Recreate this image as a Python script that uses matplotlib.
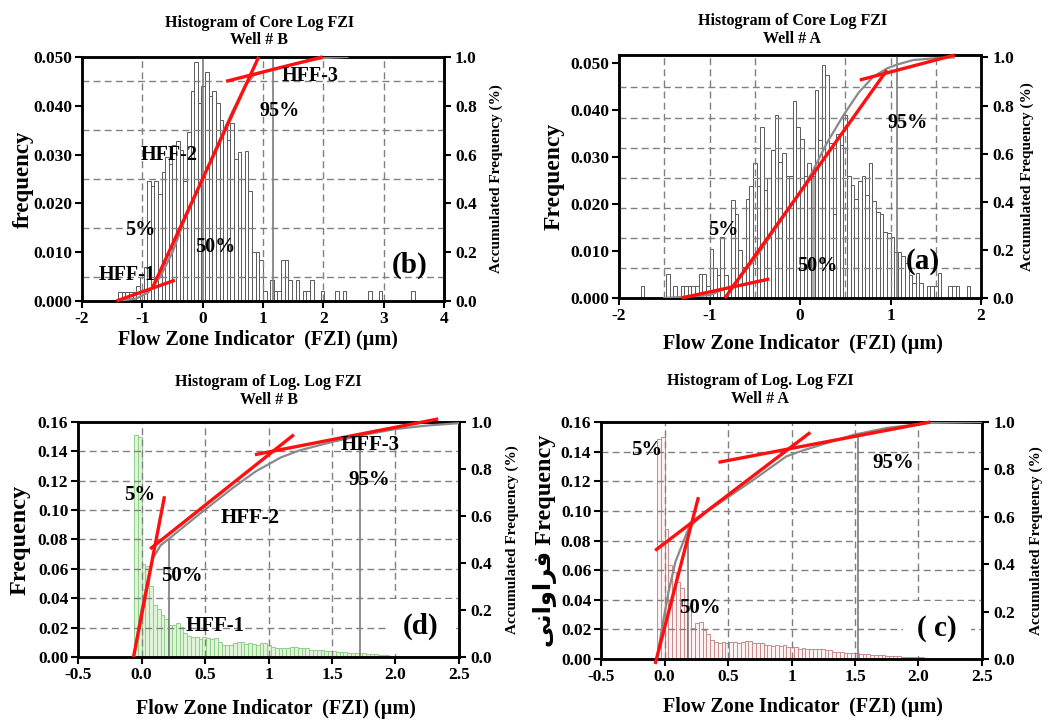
import numpy as np
import matplotlib
matplotlib.use("Agg")
import matplotlib.pyplot as plt

plt.rcParams['font.family'] = ['Liberation Serif', 'DejaVu Sans']
plt.rcParams['font.weight'] = 'bold'
plt.rcParams['axes.labelweight'] = 'bold'
plt.rcParams['axes.linewidth'] = 1.8

# ---------------- data ----------------
# (b) Core Log FZI, Well # B : bins of 0.06 from -1.40
b_start, b_width = -1.40, 0.06
b_freq = [0.0018, 0.0018, 0.0018, 0.0018, 0.0018, 0.003, 0.005, 0.007,
          0.0245, 0.0235, 0.0245, 0.022, 0.0265, 0.0295, 0.028, 0.032,
          0.0327, 0.031, 0.0245, 0.0347, 0.043, 0.049, 0.0405, 0.044,
          0.047, 0.042, 0.043, 0.0405, 0.037, 0.0355, 0.033, 0.0365,
          0.029, 0.0305, 0.0249, 0.0307, 0.0225, 0.010, 0.010, 0.0084,
          0.002, 0.0, 0.0043, 0.002, 0.002, 0.0084, 0.0084, 0.0043,
          0.0, 0.0043, 0.0, 0.002, 0.002, 0.0043, 0.0, 0.0, 0.002,
          0.0, 0.0, 0.0, 0.002, 0.0, 0.002, 0.0, 0.0, 0.0, 0.0, 0.0,
          0.0, 0.002, 0.0, 0.0, 0.002, 0.0, 0.0, 0.0, 0.0, 0.0, 0.0,
          0.0, 0.0, 0.002]
b_cdf_x = [-1.4, -1.1, -0.9, -0.7, -0.5, -0.3, 0.0, 0.3, 0.5, 0.7, 0.85,
           1.17, 1.6, 2.0, 2.4]
b_cdf_y = [0.0, 0.01, 0.035, 0.1, 0.2, 0.33, 0.5, 0.67, 0.78, 0.88, 0.925,
           0.95, 0.975, 0.995, 1.0]
b_hff_x = [[-1.43, -0.46], [-0.83, 0.93], [0.39, 1.99]]
b_hff_y = [[0.0, 0.085], [0.055, 1.0], [0.90, 1.0]]
b_pct_x = [0.0, 1.17]
b_pct_top = [0.050, 0.050]

# (a) Core Log FZI, Well # A : bins of 0.04 from -1.76
a_start, a_width = -1.76, 0.04
a_freq = [0.0026, 0.0, 0.0, 0.0, 0.0, 0.0, 0.0, 0.0052, 0.0, 0.0026,
          0.0, 0.0026, 0.0026, 0.0026, 0.0026, 0.0026, 0.0052, 0.0052,
          0.0026, 0.0104, 0.0064, 0.005, 0.013, 0.005, 0.0026, 0.0209,
          0.018, 0.0103, 0.0067, 0.021, 0.0238, 0.0287, 0.0238, 0.0365,
          0.023, 0.0255, 0.0316, 0.039, 0.029, 0.031, 0.026, 0.026,
          0.042, 0.0365, 0.034, 0.026, 0.0287, 0.026, 0.0443, 0.0337,
          0.0496, 0.0475, 0.033, 0.018, 0.035, 0.0326, 0.039, 0.026,
          0.024, 0.021, 0.025, 0.026, 0.022, 0.0287, 0.0206, 0.0184,
          0.018, 0.014, 0.0138, 0.013, 0.0099, 0.0099, 0.0089, 0.0074,
          0.005, 0.0032, 0.0053, 0.0032, 0.0, 0.0026, 0.0026, 0.0026,
          0.0053, 0.0, 0.0, 0.0026, 0.0026, 0.0026, 0.0, 0.0, 0.0026]
a_median_bin = 47
a_cdf_x = [-1.5, -1.0, -0.75, -0.5, -0.25, 0.0, 0.13, 0.29, 0.48, 0.65,
           0.81, 0.96, 1.07, 1.25, 1.5, 1.7]
a_cdf_y = [0.0, 0.012, 0.05, 0.16, 0.3, 0.44, 0.52, 0.64, 0.76, 0.855,
           0.92, 0.954, 0.97, 0.989, 0.997, 1.0]
a_hff_x = [[-1.31, -0.34], [-0.83, 0.96], [0.66, 1.71]]
a_hff_y = [[0.0, 0.079], [0.0, 0.947], [0.906, 1.01]]
a_pct_x = [1.07]
a_pct_top = [0.0518]

# (d) Log. Log FZI, Well # B : bins of 0.03 from -0.06
d_start, d_width = -0.06, 0.03
d_freq = [0.151, 0.150, 0.063, 0.062, 0.048, 0.0355, 0.033, 0.0286,
          0.026, 0.0218, 0.022, 0.023, 0.0207, 0.016, 0.0145, 0.0139,
          0.0135, 0.0123, 0.0139, 0.013, 0.0125, 0.0128, 0.010, 0.0082,
          0.0085, 0.0082, 0.0098, 0.0105, 0.0100, 0.009, 0.0092, 0.0086,
          0.0085, 0.0095, 0.0098, 0.008, 0.0065, 0.006, 0.0062, 0.006,
          0.0058, 0.0066, 0.0066, 0.006, 0.0062, 0.006, 0.005, 0.0048,
          0.0048, 0.0045, 0.0043, 0.0043, 0.0040, 0.0036, 0.0036, 0.0034,
          0.0025, 0.0025, 0.003, 0.003, 0.0028, 0.0023, 0.0023, 0.002,
          0.0014, 0.0014, 0.0012, 0.001, 0.001, 0.001, 0.0008, 0.0007,
          0.0007, 0.0007, 0.0006, 0.0006, 0.0005, 0.0005, 0.0004, 0.0004,
          0.0003, 0.0003]
d_cdf_x = [-0.06, 0.0, 0.05, 0.09, 0.15, 0.22, 0.3, 0.46, 0.72, 0.9, 1.0,
           1.1, 1.25, 1.5, 1.75, 2.0, 2.25, 2.5]
d_cdf_y = [0.0, 0.2, 0.33, 0.42, 0.475, 0.505, 0.54, 0.61, 0.72, 0.79,
           0.82, 0.85, 0.88, 0.915, 0.945, 0.97, 0.985, 0.995]
d_hff_x = [[-0.063, 0.181], [0.068, 1.20], [0.893, 2.336]]
d_hff_y = [[0.0, 0.684], [0.46, 0.946], [0.861, 1.013]]
d_pct_x = [0.22, 1.724]
d_pct_top = [0.081, 0.1407]

# (c) Log. Log FZI, Well # A : bins of 0.03 from -0.06
c_start, c_width = -0.06, 0.03
c_freq = [0.1485, 0.150, 0.088, 0.0635, 0.059, 0.052, 0.048, 0.040,
          0.036, 0.021, 0.024, 0.025, 0.0196, 0.017, 0.0128, 0.0117,
          0.0106, 0.0117, 0.0106, 0.0117, 0.0112, 0.0106, 0.0117, 0.0124,
          0.0124, 0.0106, 0.011, 0.0106, 0.0095, 0.0095, 0.009, 0.0095,
          0.009, 0.0095, 0.0083, 0.0083, 0.008, 0.007, 0.0072, 0.007,
          0.007, 0.0068, 0.007, 0.007, 0.006, 0.0058, 0.005, 0.0048,
          0.0045, 0.0043, 0.0043, 0.0040, 0.0038, 0.0036, 0.0034, 0.0032,
          0.003, 0.0027, 0.0026, 0.0024, 0.0023, 0.002, 0.0018, 0.0017,
          0.0015, 0.0014, 0.0014, 0.0013, 0.0013, 0.0012, 0.001, 0.001,
          0.0009, 0.0009, 0.0009, 0.0008, 0.0008, 0.0008, 0.0007, 0.0007]
c_cdf_x = [-0.06, -0.02, 0.03, 0.086, 0.178, 0.2, 0.33, 0.7, 0.96, 1.09,
           1.49, 1.75, 2.09, 2.5]
c_cdf_y = [0.0, 0.13, 0.28, 0.41, 0.536, 0.56, 0.62, 0.756, 0.855, 0.88,
           0.946, 0.975, 0.996, 1.0]
c_hff_x = [[-0.074, 0.267], [-0.074, 1.148], [0.425, 2.093]]
c_hff_y = [[-0.021, 0.683], [0.458, 0.956], [0.83, 1.0]]
c_pct_x = [0.188, 1.52]
c_pct_top = [0.088, 0.1515]

persian = "\uFEF0\uFEE7\uFE8D\uFEED\uFE8D\uFEAE\uFED3"

GRID = dict(color='#808080', lw=1.0, ls=(0, (5, 3)))
RED = dict(color='#ff1010', lw=2.4, solid_capstyle='butt', clip_on=False)


def panel(rect, start, width, freq, cdf_x, cdf_y, xlim, ytop, rtop, xticks,
          xticklabels, yticks, yfmt, vgrid, hgrid_r, hff_x, hff_y, pct_x,
          pct_top, title, title_x, title_y, ylabel, ylabel_size, ylabel_x,
          xlabel_xy, rlabel_x, face, edge, notes, tag, tag_xy, tag_box,
          special_bin=None):
    ax = fig.add_axes(rect)
    n = len(freq)
    left = start + width * np.arange(n)
    faces = [face] * n
    if special_bin is not None:
        faces[special_bin] = '#b0b0b0'
    ax.bar(left, freq, width=width, align='edge', color=faces,
           edgecolor=edge, linewidth=0.7, zorder=1)
    ax.set_xlim(*xlim)
    ax.set_ylim(0, ytop)
    ax.set_xticks(xticks)
    ax.set_xticklabels(xticklabels)
    ax.set_yticks(yticks)
    ax.set_yticklabels([yfmt % v for v in yticks])
    for gx in vgrid:
        ax.axvline(gx, zorder=2.5, **GRID)
    ax.vlines(pct_x, 0, pct_top, color='#707070', lw=1.1, zorder=2.6)
    ax.tick_params(direction='out', length=5, width=1.5, labelsize=12.5,
                   pad=2)

    ax2 = ax.twinx()
    ax2.set_ylim(0, rtop)
    ax2.set_yticks([0, 0.2, 0.4, 0.6, 0.8, 1.0])
    ax2.set_yticklabels(['0.0', '0.2', '0.4', '0.6', '0.8', '1.0'])
    ax2.set_yticks(hgrid_r, minor=True)
    ax2.tick_params(which='minor', length=0)
    ax2.grid(which='minor', axis='y', **GRID)
    ax2.tick_params(which='major', direction='out', length=5, width=1.5,
                    labelsize=12.5, pad=3)
    for s in ax2.spines.values():
        s.set_linewidth(1.8)

    # accumulated frequency curve
    ax2.plot(cdf_x, cdf_y, color='#8a8a8a', lw=1.6, zorder=3)
    for xs, ys in zip(hff_x, hff_y):
        ax2.plot(xs, ys, zorder=4, **RED)

    for txt, x, y, size in notes:
        ax2.text(x, y, txt, fontsize=size, ha='center', va='center',
                 zorder=5)
    box = dict(facecolor='white', edgecolor='none', pad=10) if tag_box else None
    ax2.text(tag_xy[0], tag_xy[1], tag, fontsize=21, ha='center',
             va='center', zorder=5, bbox=box)

    ax.text(title_x, title_y, title, transform=ax.transAxes, ha='center',
            va='bottom', fontsize=11.5, linespacing=1.15)
    ax.set_ylabel(ylabel, fontsize=ylabel_size)
    ax.yaxis.set_label_coords(ylabel_x, 0.5)
    ax.set_xlabel('Flow Zone Indicator  (FZI) (\u00b5m)', fontsize=14.5)
    ax.xaxis.set_label_coords(*xlabel_xy)
    ax2.set_ylabel('Accumulated Frequency (%)', fontsize=11)
    ax2.yaxis.set_label_coords(rlabel_x, 0.5)
    return ax


fig = plt.figure(figsize=(10.46, 7.2), dpi=100)

panel([0.0784, 0.582, 0.346, 0.339], b_start, b_width, b_freq,
      b_cdf_x, b_cdf_y, (-2, 4),
      0.050, 1.0, [-2, -1, 0, 1, 2, 3, 4],
      ['-2', '-1', '0', '1', '2', '3', '4'],
      [0, 0.01, 0.02, 0.03, 0.04, 0.05], '%.3f', [-1, 1, 2, 3],
      np.arange(0.1, 1.0, 0.1), b_hff_x, b_hff_y, b_pct_x, b_pct_top,
      'Histogram of Core Log FZI\nWell # B', 0.49, 1.035, 'frequency', 16.5,
      -0.133, (0.486, -0.118), 1.127, 'white', '#5a5a5a',
      [('HFF-3', 1.79, 0.923, 14.5), ('95%', 1.27, 0.78, 14.5),
       ('HFF-2', -0.56, 0.60, 14.5), ('5%', -1.04, 0.29, 14.5),
       ('50%', 0.21, 0.22, 14.5), ('HFF-1', -1.26, 0.105, 14.5)],
      '(b)', (3.43, 0.147), False)

panel([0.5918, 0.5861, 0.3461, 0.3375], a_start, a_width, a_freq,
      a_cdf_x, a_cdf_y, (-2, 2),
      0.0518, 1.01, [-2, -1, 0, 1, 2], ['-2', '-1', '0', '1', '2'],
      [0, 0.01, 0.02, 0.03, 0.04, 0.05], '%.3f', [-1.5, -1, -0.5, 0.5, 1, 1.5],
      np.arange(0.125, 1.0, 0.125), a_hff_x, a_hff_y, a_pct_x, a_pct_top,
      'Histogram of Core Log FZI\nWell # A', 0.478, 1.035, 'Frequency', 17,
      -0.149, (0.508, -0.15), 1.110, 'white', '#5a5a5a',
      [('95%', 1.19, 0.726, 14.5), ('5%', -0.845, 0.284, 14.5),
       ('50%', 0.185, 0.131, 14.5)],
      '(a)', (1.36, 0.152), False, special_bin=a_median_bin)

panel([0.0746, 0.0875, 0.3642, 0.3264], d_start, d_width, d_freq,
      d_cdf_x, d_cdf_y,
      (-0.5, 2.5), 0.16, 1.0, [-0.5, 0, 0.5, 1, 1.5, 2, 2.5],
      ['-0.5', '0.0', '0.5', '1', '1.5', '2.0', '2.5'],
      [0, 0.02, 0.04, 0.06, 0.08, 0.10, 0.12, 0.14, 0.16], '%.2f',
      [0, 0.5, 1, 1.5, 2], np.arange(0.125, 1.0, 0.125), d_hff_x, d_hff_y,
      d_pct_x, d_pct_top, 'Histogram of Log. Log FZI\nWell # B', 0.5, 1.06,
      'Frequency', 17.5, -0.126, (0.52, -0.18), 1.123, '#dff3d8', '#8fd08a',
      [('HFF-3', 1.80, 0.90, 15), ('95%', 1.79, 0.755, 15),
       ('5%', -0.016, 0.69, 15), ('HFF-2', 0.854, 0.59, 15),
       ('50%', 0.317, 0.346, 15), ('HFF-1', 0.579, 0.13, 15)],
      '(d)', (2.195, 0.13), True)

panel([0.5746, 0.0847, 0.3642, 0.3292], c_start, c_width, c_freq,
      c_cdf_x, c_cdf_y,
      (-0.5, 2.5), 0.16, 1.0, [-0.5, 0, 0.5, 1, 1.5, 2, 2.5],
      ['-0.5', '0.0', '0.5', '1', '1.5', '2.0', '2.5'],
      [0, 0.02, 0.04, 0.06, 0.08, 0.10, 0.12, 0.14, 0.16], '%.2f',
      [0, 0.5, 1, 1.5, 2], np.arange(0.125, 1.0, 0.125), c_hff_x, c_hff_y,
      c_pct_x, c_pct_top, 'Histogram of Log. Log FZI\nWell # A', 0.417, 1.065,
      persian + ' Frequency', 17.5, -0.115, (0.53, -0.16), 1.126, '#fdf1f1',
      '#c88a8a',
      [('5%', -0.14, 0.883, 15), ('95%', 1.80, 0.827, 15),
       ('50%', 0.28, 0.214, 15)],
      '( c)', (2.145, 0.13), True)

fig.savefig('out.png', dpi=100)
